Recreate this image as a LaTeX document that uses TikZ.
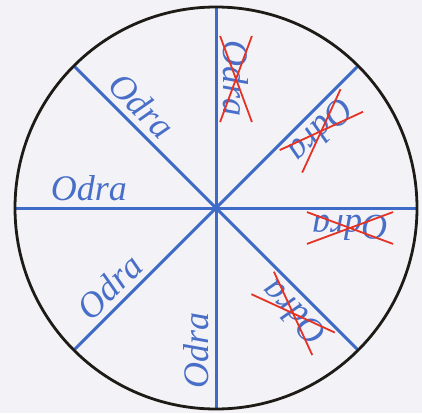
\documentclass[tikz,border=0pt]{standalone}
\usepackage{fontspec}
\setmainfont{Liberation Serif}
\usepackage{xcolor}
\usetikzlibrary{calc}
\definecolor{spokeblue}{RGB}{62,106,200}
\definecolor{wordblue}{RGB}{72,110,200}
\definecolor{strikered}{RGB}{228,50,36}
\definecolor{rimblack}{RGB}{30,26,22}
\definecolor{paper}{RGB}{243,243,247}

\begin{document}
\begin{tikzpicture}[x=1pt, y=1pt,
		hub/.style={circle, minimum size=402pt, inner sep=0pt, outer sep=0pt},
		spoke/.style={draw=spokeblue, line width=3pt},
		rim/.style={draw=rimblack, line width=2.8pt},
		word/.style={text=wordblue, inner sep=2pt,
			font=\fontsize{36}{40}\selectfont\itshape},
		strike/.style={draw=strikered, line width=1.8pt,
			shorten <=-3pt, shorten >=-3pt}]
		\fill[paper] (0,0) rectangle (422,413);
		\useasboundingbox (0,0) rectangle (422,413);
		\node[hub] (w) at (216,205) {};
		% spokes
		\foreach \a/\b in {0/180,45/225,90/270,135/315}
			\draw[spoke] (w.\a) -- (w.\b);
		\draw[rim] (w.center) circle[radius=201];
		% readable words on the left half
		\foreach \a/\d/\n in {135/125/ul,180/127/l,225/131/ll,270/142/b}
			\node[word, rotate=\a-180] (odra-\n) at ($(w.center)+(\a:\d)+(\a-90:20)$) {Odra};
		% upside-down words, struck out
		\foreach \a/\d/\n in {315/129/lr,0/134/r,45/129/ur,90/129/t}{
			\node[word, rotate=\a-180] (odra-\n) at ($(w.center)+(\a:\d)+(\a-90:20)$) {Odra};
			\draw[strike] (odra-\n.south west) -- (odra-\n.north east);
			\draw[strike] (odra-\n.north west) -- (odra-\n.south east);
		}
	\end{tikzpicture}
\end{document}
